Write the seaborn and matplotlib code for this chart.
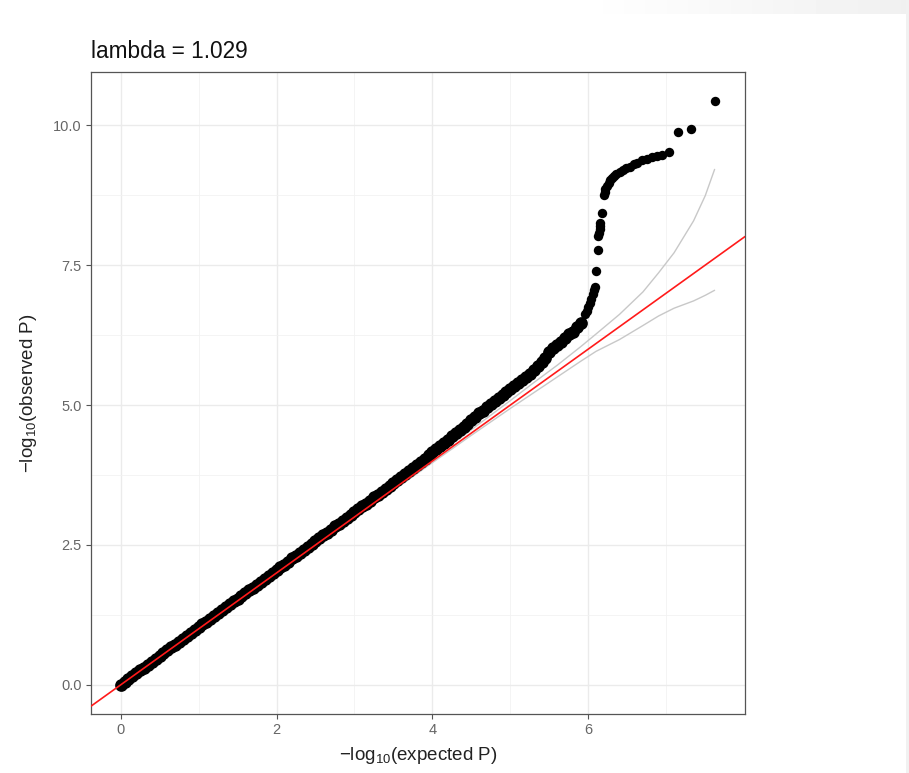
import numpy as np
import pandas as pd
import matplotlib
matplotlib.use("Agg")
import matplotlib.pyplot as plt
import seaborn as sns

# Expected vs observed -log10(P) for the dense bulk of the distribution
expected_bulk = [
    0.00, 0.05, 0.10, 0.15, 0.20, 0.25, 0.30, 0.35, 0.40, 0.45,
    0.50, 0.55, 0.60, 0.65, 0.70, 0.75, 0.80, 0.85, 0.90, 0.95,
    1.00, 1.05, 1.10, 1.15, 1.20, 1.25, 1.30, 1.35, 1.40, 1.45,
    1.50, 1.55, 1.60, 1.65, 1.70, 1.75, 1.80, 1.85, 1.90, 1.95,
    2.00, 2.05, 2.10, 2.15, 2.20, 2.25, 2.30, 2.35, 2.40, 2.45,
    2.50, 2.55, 2.60, 2.65, 2.70, 2.75, 2.80, 2.85, 2.90, 2.95,
    3.00, 3.05, 3.10, 3.15, 3.20, 3.25, 3.30, 3.35, 3.40, 3.45,
    3.50, 3.55, 3.60, 3.65, 3.70, 3.75, 3.80, 3.85, 3.90, 3.95,
    4.00, 4.05, 4.10, 4.15, 4.20, 4.25, 4.30, 4.35, 4.40, 4.45,
    4.50, 4.55, 4.60, 4.65, 4.70, 4.75, 4.80, 4.85, 4.90, 4.95,
    5.00, 5.05, 5.10, 5.15, 5.20, 5.25, 5.30, 5.35, 5.40, 5.45,
    5.50, 5.55, 5.60, 5.65, 5.70, 5.75, 5.80, 5.85, 5.90,
]
observed_bulk = [
    0.00, 0.05, 0.10, 0.15, 0.21, 0.26, 0.31, 0.36, 0.41, 0.47,
    0.52, 0.57, 0.62, 0.67, 0.72, 0.77, 0.82, 0.88, 0.93, 0.98,
    1.03, 1.08, 1.13, 1.18, 1.23, 1.28, 1.33, 1.39, 1.44, 1.49,
    1.54, 1.59, 1.64, 1.69, 1.74, 1.79, 1.84, 1.89, 1.95, 2.00,
    2.05, 2.10, 2.15, 2.20, 2.26, 2.31, 2.36, 2.41, 2.46, 2.51,
    2.57, 2.62, 2.67, 2.72, 2.77, 2.83, 2.88, 2.93, 2.98, 3.03,
    3.09, 3.14, 3.19, 3.24, 3.29, 3.35, 3.40, 3.45, 3.50, 3.55,
    3.61, 3.66, 3.71, 3.77, 3.82, 3.87, 3.93, 3.99, 4.04, 4.10,
    4.16, 4.21, 4.27, 4.33, 4.38, 4.44, 4.50, 4.56, 4.61, 4.67,
    4.73, 4.79, 4.85, 4.90, 4.96, 5.01, 5.07, 5.12, 5.18, 5.23,
    5.29, 5.34, 5.40, 5.45, 5.50, 5.56, 5.62, 5.69, 5.77, 5.84,
    5.94, 6.02, 6.08, 6.13, 6.20, 6.27, 6.31, 6.40, 6.47,
]

# Top-ranked variants (sparse tail)
expected_tail = [
    5.96, 5.98, 6.00, 6.02, 6.04, 6.06, 6.07, 6.08, 6.10, 6.12,
    6.13, 6.14, 6.145, 6.15, 6.155, 6.18, 6.20, 6.21, 6.22, 6.24,
    6.26, 6.28, 6.30, 6.33, 6.36, 6.40, 6.44, 6.48, 6.53, 6.58,
    6.63, 6.69, 6.75, 6.82, 6.88, 6.94, 7.03, 7.15, 7.32, 7.63,
]
observed_tail = [
    6.63, 6.68, 6.75, 6.82, 6.90, 6.98, 7.05, 7.10, 7.40, 7.77,
    8.02, 8.08, 8.14, 8.20, 8.25, 8.43, 8.75, 8.80, 8.86, 8.92,
    8.97, 9.02, 9.06, 9.10, 9.13, 9.17, 9.20, 9.23, 9.26, 9.30,
    9.33, 9.37, 9.40, 9.43, 9.45, 9.47, 9.52, 9.88, 9.93, 10.43,
]

# 95% confidence band around the null expectation
ci_expected = [0.0, 1.0, 2.0, 3.0, 4.0, 4.5, 5.0, 5.3, 5.6, 5.9, 6.1,
               6.4, 6.7, 6.9, 7.1, 7.35, 7.5, 7.62]
ci_upper = [0.0, 1.0, 2.01, 3.02, 4.04, 4.56, 5.08, 5.40, 5.71, 6.04, 6.27,
            6.62, 7.02, 7.36, 7.72, 8.29, 8.74, 9.21]
ci_lower = [0.0, 1.0, 1.99, 2.98, 3.97, 4.46, 4.94, 5.22, 5.50, 5.78, 5.96,
            6.17, 6.42, 6.59, 6.73, 6.86, 6.96, 7.05]

title_text = "lambda = 1.029"
x_ticks = [0, 2, 4, 6]
y_ticks = [0.0, 2.5, 5.0, 7.5, 10.0]

bulk = pd.DataFrame({"expected": expected_bulk, "observed": observed_bulk})
tail = pd.DataFrame({"expected": expected_tail, "observed": observed_tail})
band = pd.DataFrame({"expected": ci_expected, "upper": ci_upper, "lower": ci_lower})

sns.set_theme(style="white")
plt.rcParams["font.family"] = ["Liberation Sans", "DejaVu Sans"]

fig = plt.figure(figsize=(9.09, 7.73), dpi=100)

# faint page backdrop along the top and right edges
bg = fig.add_axes([0, 0, 1, 1], zorder=-10)
grad = np.ones((773, 909))
cols = np.linspace(0, 1, 909)
top_fade = np.clip((cols - 0.64) / 0.36, 0, 1) * 0.06
grad[:14, :] = 1 - top_fade
grad[:, 906:] = 0.945
bg.imshow(grad, cmap="gray", vmin=0, vmax=1, aspect="auto", interpolation="nearest")
bg.set_axis_off()

ax = fig.add_axes([91 / 909, 59 / 773, 654 / 909, 642 / 773])
ax.set_facecolor("white")

sns.lineplot(data=band, x="expected", y="upper", ax=ax, color="#c8c8c8",
             linewidth=1.0, zorder=2)
sns.lineplot(data=band, x="expected", y="lower", ax=ax, color="#c8c8c8",
             linewidth=1.0, zorder=2)
# the bulk is many overlapping points, so it reads as a thicker band
sns.scatterplot(data=bulk, x="expected", y="observed", ax=ax, color="black",
                s=84, linewidth=0, zorder=3)
sns.scatterplot(data=tail, x="expected", y="observed", ax=ax, color="black",
                s=46, linewidth=0, zorder=3)
ax.axline((0, 0), slope=1, color="#ff1a1a", linewidth=1.2, zorder=4)

ax.set_xlim(-0.38, 8.01)
ax.set_ylim(-0.52, 10.95)
ax.set_xticks(x_ticks)
ax.set_xticklabels([str(t) for t in x_ticks])
ax.set_yticks(y_ticks)
ax.set_yticklabels([f"{t:.1f}" for t in y_ticks])
ax.set_xticks([1, 3, 5, 7], minor=True)
ax.set_yticks([1.25, 3.75, 6.25, 8.75], minor=True)

ax.grid(which="major", color="#ebebeb", linewidth=1.0)
ax.grid(which="minor", color="#f2f2f2", linewidth=0.6)
ax.set_axisbelow(True)

for s in ax.spines.values():
    s.set_color("#555555")
    s.set_linewidth(0.9)

ax.tick_params(axis="both", which="major", length=3.5, width=0.8,
               color="#555555", labelsize=10.5, labelcolor="#666666", pad=3,
               bottom=True, left=True)
ax.tick_params(axis="both", which="minor", length=0)

ax.set_xlabel(r"$\mathregular{-log_{10}}$(expected P)", fontsize=13.5,
              color="#222222", labelpad=6)
ax.set_ylabel(r"$\mathregular{-log_{10}}$(observed P)", fontsize=13.5,
              color="#222222", labelpad=10)
ax.set_title(title_text, loc="left", fontsize=16.3, color="#111111", pad=10)

fig.savefig("out.png", dpi=100)
